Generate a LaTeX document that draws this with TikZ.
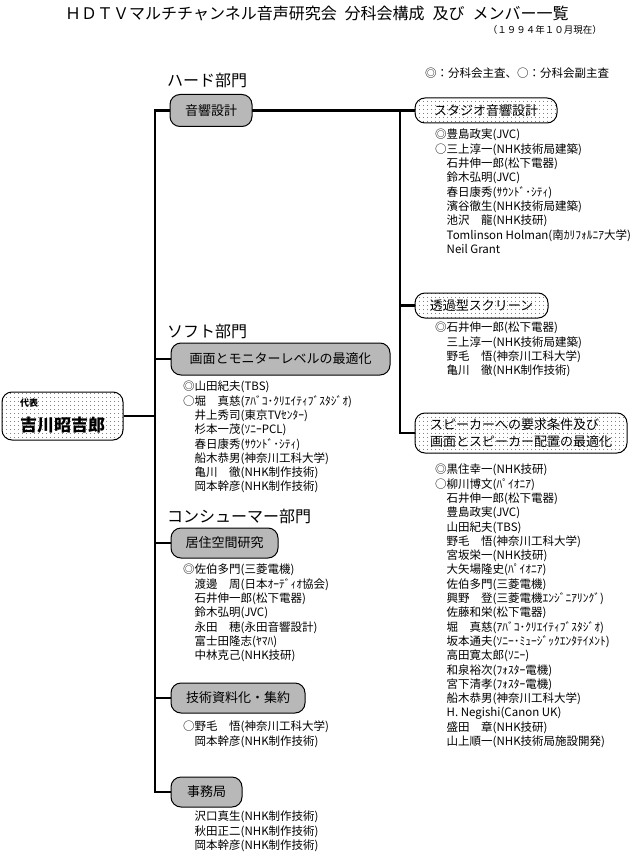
\documentclass[tikz,border=0pt]{standalone}
\usepackage{fontspec}
\setmainfont{Noto Sans CJK JP}
\usetikzlibrary{patterns.meta,backgrounds}
\tikzset{
  dense/.style={draw, line width=1pt, rounded corners=10pt, fill=black!28,
    font=\fontsize{13}{17}\selectfont, inner sep=0pt},
  sparse/.style={draw, line width=1pt, rounded corners=10pt, preaction={fill=white},
    pattern={Dots[radius=0.45pt,distance=4pt]},
    font=\fontsize{13}{17}\selectfont, inner sep=0pt},
  member/.style={anchor=north west, inner sep=0pt, align=left,
    font=\fontsize{11.5}{14.3}\selectfont},
  hdr/.style={anchor=west, inner sep=0pt, font=\fontsize{16}{18}\selectfont},
  trunk/.style={line width=2.2pt}
}
\begin{document}
\begin{tikzpicture}[x=1pt,y=-1pt]
\useasboundingbox (0,0) rectangle (632,853);

% titles
\node[inner sep=0pt, font=\fontsize{16}{18}\selectfont] (title) at (317,13)
  {ＨＤＴＶマルチチャンネル音声研究会\hspace{0.5em}分科会構成\hspace{0.5em}及び\hspace{0.5em}メンバー一覧};
\node[anchor=east, inner sep=0pt, font=\fontsize{9.5}{11}\selectfont] (date) at (602,30)
  {（１９９４年１０月現在）};
\node[anchor=west, inner sep=0pt, font=\fontsize{11.5}{13}\selectfont] (legend) at (425,73)
  {◎：分科会主査、○：分科会副主査};

% section headers
\node[hdr] (h1) at (167,80) {ハード部門};
\node[hdr] (h2) at (167,331) {ソフト部門};
\node[hdr] (h3) at (167,516) {コンシューマー部門};

% boxes
\node[sparse, minimum width=121, minimum height=48, align=left] (bd) at (62.5,416)
  {{\fontsize{9}{10}\selectfont\bfseries 代表}\\[8pt]{\fontsize{17}{20}\selectfont\bfseries 吉川昭吉郎}};
\node[dense, minimum width=82, minimum height=32] (b1) at (211,110.5) {音響設計};
\node[sparse, minimum width=142, minimum height=25] (bs) at (486,110.5) {スタジオ音響設計};
\node[sparse, minimum width=133, minimum height=25] (bt) at (481.5,305.5) {透過型スクリーン};
\node[sparse, minimum width=212, minimum height=40, align=left] (bsp) at (521,433)
  {スピーカーへの要求条件及び\\画面とスピーカー配置の最適化};
\node[dense, minimum width=219, minimum height=32] (bg) at (280.5,359) {画面とモニターレベルの最適化};
\node[dense, minimum width=107, minimum height=30] (bk) at (224.5,543) {居住空間研究};
\node[dense, minimum width=134, minimum height=30] (bj) at (238,698) {技術資料化・集約};
\node[dense, minimum width=71, minimum height=30] (bm) at (206.5,792) {事務局};

% junction points
\coordinate (t0) at (155,110.5);
\coordinate (r0) at (400,110.5);

% connectors
\begin{scope}[on background layer]
\draw[trunk] (bs.west) -- (t0) -- (t0 |- bm.west) -- (bm.west);
\draw[trunk] (r0) -- (r0 |- bsp.west) -- (bsp.west);
\draw[trunk] (r0 |- bt.west) -- (bt.west);
\draw[trunk] (t0 |- bg.west) -- (bg.west);
\draw[trunk] (t0 |- bk.west) -- (bk.west);
\draw[trunk] (t0 |- bj.west) -- (bj.west);
\draw[trunk] (bd.east) -- (t0 |- bd.east);
\end{scope}

% member lists
\node[member] (ls) at (435,129) {◎豊島政実(JVC)\\○三上淳一(NHK技術局建築)\\　石井伸一郎(松下電器)\\　鈴木弘明(JVC)\\　春日康秀(ｻｳﾝﾄﾞ･ｼﾃｨ)\\　濱谷徹生(NHK技術局建築)\\　池沢　龍(NHK技研)\\　Tomlinson Holman(南ｶﾘﾌｫﾙﾆｱ大学)\\　Neil Grant};

\node[member] (lt) at (435,322) {◎石井伸一郎(松下電器)\\　三上淳一(NHK技術局建築)\\　野毛　悟(神奈川工科大学)\\　亀川　徹(NHK制作技術)};

\node[member] (lsp) at (435,464) {◎黒住幸一(NHK技研)\\○柳川博文(ﾊﾟｲｵﾆｱ)\\　石井伸一郎(松下電器)\\　豊島政実(JVC)\\　山田紀夫(TBS)\\　野毛　悟(神奈川工科大学)\\　宮坂栄一(NHK技研)\\　大矢場隆史(ﾊﾟｲｵﾆｱ)\\　佐伯多門(三菱電機)\\　興野　登(三菱電機ｴﾝｼﾞﾆｱﾘﾝｸﾞ)\\　佐藤和栄(松下電器)\\　堀　真慈(ｱﾊﾞｺ･ｸﾘｴｲﾃｨﾌﾞｽﾀｼﾞｵ)\\　坂本通夫(ｿﾆｰ･ﾐｭｰｼﾞｯｸｴﾝﾀﾃｲﾒﾝﾄ)\\　高田寛太郎(ｿﾆｰ)\\　和泉裕次(ﾌｫｽﾀｰ電機)\\　宮下清孝(ﾌｫｽﾀｰ電機)\\　船木恭男(神奈川工科大学)\\　H. Negishi(Canon UK)\\　盛田　章(NHK技研)\\　山上順一(NHK技術局施設開発)};

\node[member] (lg) at (183,381) {◎山田紀夫(TBS)\\○堀　真慈(ｱﾊﾞｺ･ｸﾘｴｲﾃｨﾌﾞｽﾀｼﾞｵ)\\　井上秀司(東京TVｾﾝﾀｰ)\\　杉本一茂(ｿﾆｰPCL)\\　春日康秀(ｻｳﾝﾄﾞ･ｼﾃｨ)\\　船木恭男(神奈川工科大学)\\　亀川　徹(NHK制作技術)\\　岡本幹彦(NHK制作技術)};

\node[member] (lk) at (183,564) {◎佐伯多門(三菱電機)\\　渡邊　周(日本ｵｰﾃﾞｨｵ協会)\\　石井伸一郎(松下電器)\\　鈴木弘明(JVC)\\　永田　穂(永田音響設計)\\　富士田隆志(ﾔﾏﾊ)\\　中林克己(NHK技研)};

\node[member] (lj) at (183,721) {○野毛　悟(神奈川工科大学)\\　岡本幹彦(NHK制作技術)};

\node[member] (lm) at (183,811) {　沢口真生(NHK制作技術)\\　秋田正二(NHK制作技術)\\　岡本幹彦(NHK制作技術)};
\end{tikzpicture}
\end{document}
